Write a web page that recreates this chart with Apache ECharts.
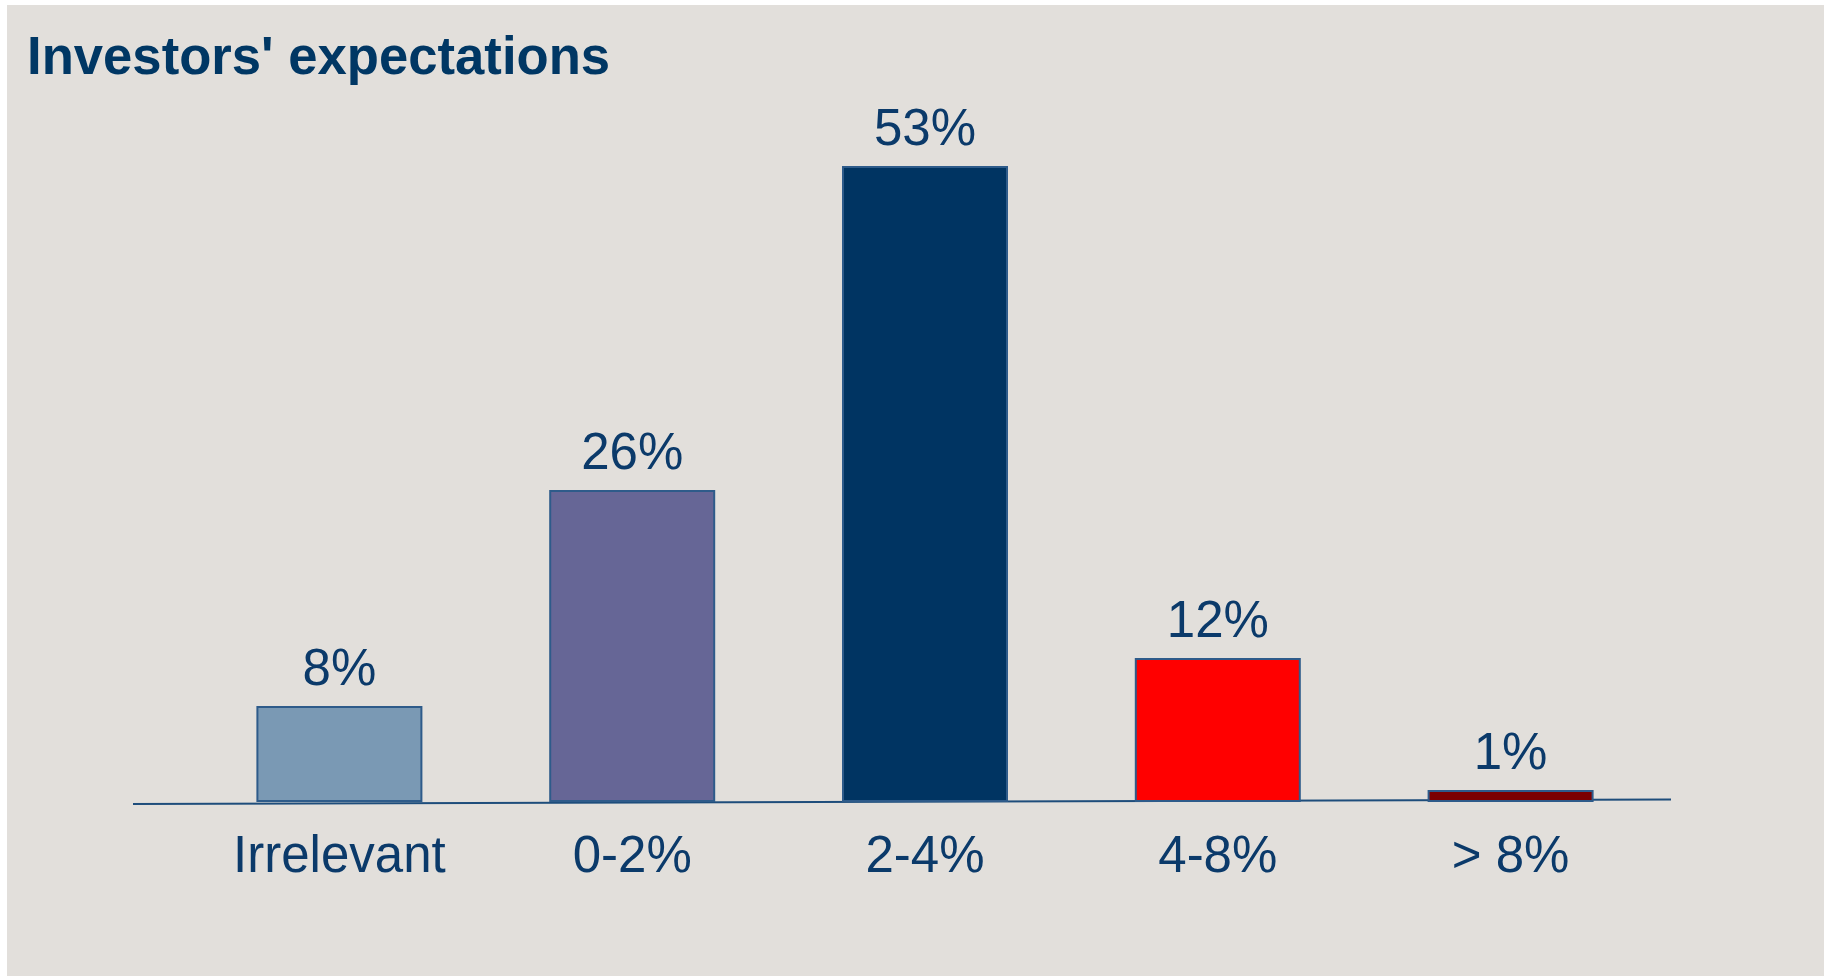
<!DOCTYPE html>
<html>
<head>
<meta charset="utf-8">
<script src="https://cdn.jsdelivr.net/npm/echarts@6/dist/echarts.min.js"></script>
<style>
  html, body { margin: 0; padding: 0; background: #ffffff; }
  #chart { width: 1833px; height: 976px; }
</style>
</head>
<body>
<div id="chart"></div>
<script>
// Survey answers: expected return bands and share of investors (%)
const categories = ['Irrelevant', '0-2%', '2-4%', '4-8%', '> 8%'];
const shares = [8, 26, 53, 12, 1];
const barColors = ['#7a99b4', '#666696', '#003462', '#ff0000', '#7b0000'];
const titleText = "Investors' expectations";

const textColor = '#0b3a6a';
const chart = echarts.init(document.getElementById('chart'), null, { renderer: 'canvas' });

chart.setOption({
  animation: false,
  backgroundColor: '#ffffff',
  graphic: [
    // grey panel behind the chart
    { type: 'rect', z: -10, shape: { x: 7, y: 5, width: 1817, height: 971 }, style: { fill: '#e2dfdb' } },
    // bold heading
    {
      type: 'text', x: 27, y: 59, scaleX: 0.975,
      style: { text: titleText, font: 'bold 54px "Liberation Sans"', fill: '#003764', verticalAlign: 'middle' }
    },
    // baseline rule, running a bit past the outer bars
    { type: 'line', z: 1, shape: { x1: 133, y1: 804, x2: 1671, y2: 799.5 }, style: { stroke: '#1e4d7b', lineWidth: 2 } }
  ],
  grid: { left: 193, right: 176, top: 82, bottom: 174 },
  xAxis: {
    type: 'category',
    data: categories,
    axisLine: { show: false },
    axisTick: { show: false },
    axisLabel: { margin: 30, color: textColor, fontSize: 51, fontFamily: 'Liberation Sans' }
  },
  yAxis: { type: 'value', min: 0, max: 60, show: false, splitLine: { show: false } },
  series: [{
    type: 'bar',
    data: shares.map((v, i) => ({ value: v, itemStyle: { color: barColors[i] } })),
    barWidth: 166,
    itemStyle: { borderColor: '#2e5b8a', borderWidth: 2 },
    label: {
      show: true, position: 'top', distance: 10,
      formatter: '{c}%', color: textColor, fontSize: 51, fontFamily: 'Liberation Sans'
    }
  }]
});
</script>
</body>
</html>
